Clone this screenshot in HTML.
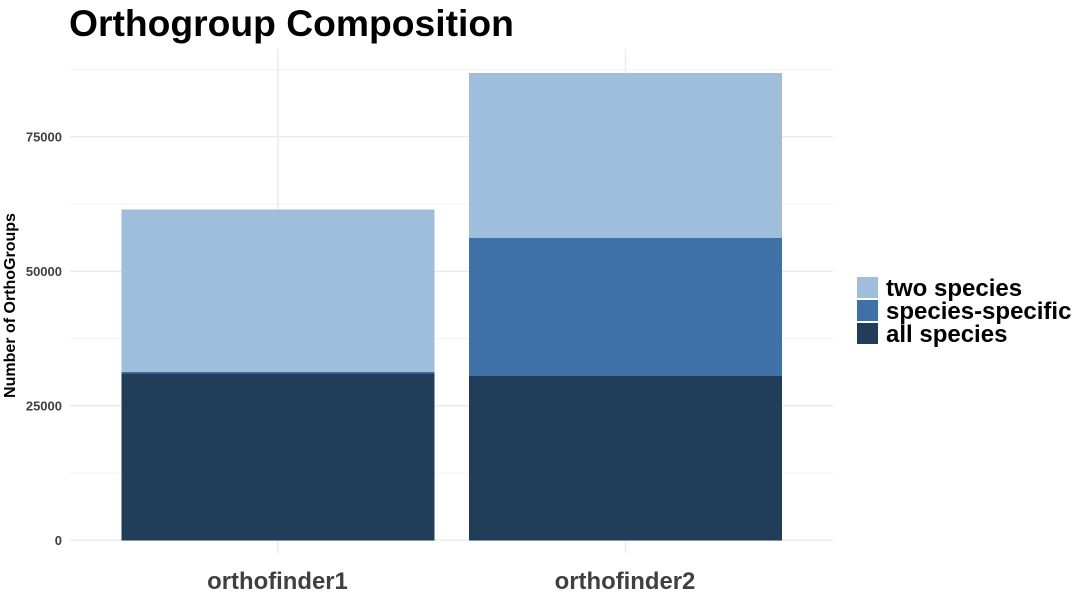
<!DOCTYPE html>
<html lang="en">
<head>
<meta charset="utf-8">
<title>Orthogroup Composition</title>
<style>
html,body{margin:0;padding:0;background:#fff;width:1086px;height:600px;overflow:hidden}
svg{display:block}
text{font-family:"Liberation Sans",Arial,sans-serif;font-weight:bold}
</style>
</head>
<body>
<svg id="chart" width="1086" height="600" viewBox="0 0 1086 600" xmlns="http://www.w3.org/2000/svg">
  <text x="69" y="36" font-size="37.25" fill="#000">Orthogroup Composition</text>
  <g id="grid"></g>
  <g id="bars" shape-rendering="crispEdges"></g>
  <g id="yticks"></g>
  <g id="xticks"></g>
  <text transform="translate(15,305.5) rotate(-90)" text-anchor="middle" font-size="16" fill="#000">Number of OrthoGroups</text>
  <g id="legend"></g>
</svg>
<script>
const categories = ["orthofinder1", "orthofinder2"];
const seriesNames = ["all species", "species-specific", "two species"];
const allSpecies = [31000, 30580];
const speciesSpecific = [250, 25650];
const twoSpecies = [30200, 30670];
const yTicks = [0, 25000, 50000, 75000];
const yMinorTicks = [12500, 37500, 62500, 87500];
const legendOrder = ["two species", "species-specific", "all species"];

const NS = "http://www.w3.org/2000/svg";
const colors = {"all species": "#223d59", "species-specific": "#3e72a6", "two species": "#9ebedb"};
const seriesValues = {"all species": allSpecies, "species-specific": speciesSpecific, "two species": twoSpecies};
const panel = {left: 70, right: 833, top: 49, bottom: 553};

function yScale(v) { return 540.3 - v * (403.5 / 75000); }
function xScale(i) { return 278 + i * 347.5; }
const barWidth = 312.75;

function make(tag, attrs, parent) {
  const el = document.createElementNS(NS, tag);
  for (const k in attrs) el.setAttribute(k, attrs[k]);
  parent.appendChild(el);
  return el;
}

const grid = document.getElementById("grid");
yMinorTicks.forEach(function (t) {
  const line = make("line", {x1: panel.left, x2: panel.right, y1: yScale(t), y2: yScale(t), stroke: "#f3f3f3", "stroke-width": 1}, grid);
  
  
});
yTicks.forEach(function (t) {
  const line = make("line", {x1: panel.left, x2: panel.right, y1: yScale(t), y2: yScale(t), stroke: "#ebebeb", "stroke-width": 1.5}, grid);
  
  
});
categories.forEach(function (c, i) {
  const line = make("line", {x1: xScale(i), x2: xScale(i), y1: panel.top, y2: panel.bottom, stroke: "#ebebeb", "stroke-width": 1.5}, grid);
  
  
});

const bars = document.getElementById("bars");
categories.forEach(function (c, i) {
  let base = 0;
  seriesNames.forEach(function (s) {
    const v = seriesValues[s][i];
    const rect = make("rect", {
      x: xScale(i) - barWidth / 2,
      y: yScale(base + v),
      width: barWidth,
      height: yScale(base) - yScale(base + v),
      fill: colors[s]
    }, bars);
    
    
    base += v;
  });
});

const yt = document.getElementById("yticks");
yTicks.forEach(function (t) {
  const label = make("text", {x: 62, y: yScale(t) + 4.5, "text-anchor": "end", "font-size": 13, fill: "#404040"}, yt);
  
  
  label.textContent = String(t);
});

const xt = document.getElementById("xticks");
categories.forEach(function (c, i) {
  const label = make("text", {x: xScale(i) - 0.5, y: 589, "text-anchor": "middle", "font-size": 23.9, fill: "#404040"}, xt);
  
  
  label.textContent = c;
});

const legend = document.getElementById("legend");
legendOrder.forEach(function (s, i) {
  const y = 277 + i * 23;
  const swatch = make("rect", {x: 857, y: y, width: 21, height: 21, fill: colors[s]}, legend);
  
  
  const label = make("text", {x: 886, y: y + 19, "font-size": 24, fill: "#000"}, legend);
  
  
  label.textContent = s;
});
</script>
</body>
</html>
